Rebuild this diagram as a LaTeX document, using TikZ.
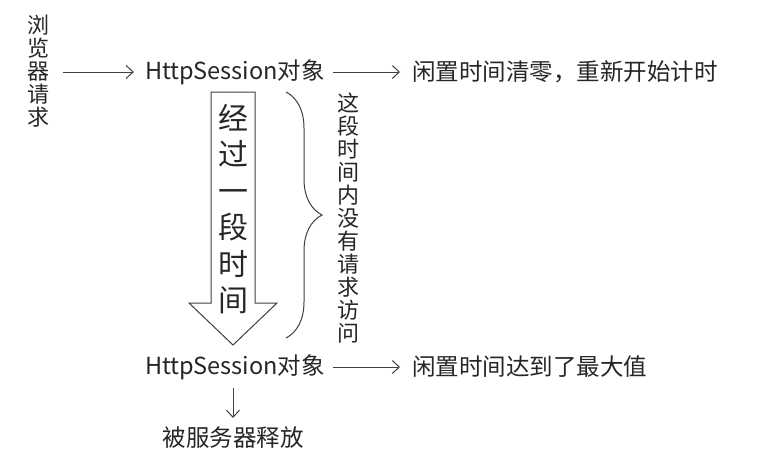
\documentclass[tikz,border=0pt]{standalone}
\usepackage{fontspec}
\setmainfont{Noto Sans CJK SC}
\usetikzlibrary{arrows.meta,decorations.pathreplacing}
\tikzset{
  lbl/.style={inner sep=0pt,text=black!85,font=\fontsize{23.5}{25}\selectfont},
  vlbl/.style={inner sep=0pt,text=black!85,align=center,font=\fontsize{22}{23}\selectfont},
  conn/.style={-{Straight Barb[length=7pt,width=13pt,line width=1pt]},line width=1pt,black!75},
}
\begin{document}
\begin{tikzpicture}[x=1pt,y=-1pt]
  \useasboundingbox[fill=white] (0,0) rectangle (758,469);
  % left column
  \node[vlbl] (browser) at (38.5,71) {浏\\览\\器\\请\\求};
  \node[lbl] (sess1) at (235,72) {HttpSession对象};
  \node[lbl,anchor=west] (reset) at (412,72) {闲置时间清零，重新开始计时};
  \node[lbl] (sess2) at (235,367) {HttpSession对象};
  \node[lbl,anchor=west] (maxed) at (412,367) {闲置时间达到了最大值};
  \node[lbl] (freed) at (233,438) {被服务器释放};
  % big hollow arrow
  \draw[line width=1pt,black!75] (211,92) -- (255,92) -- (255,303) -- (277,303)
    -- (233,345) -- (189,303) -- (211,303) -- cycle;
  \node[vlbl,font=\fontsize{30}{36.4}\selectfont] (wait) at (233,209) {经\\过\\一\\段\\时\\间};
  % brace and its text
  \draw[line width=1pt,black!75,decorate,
    decoration={brace,amplitude=36pt}] (286,92) -- (286,338);
  \node[vlbl] (idle) at (348,218) {这\\段\\时\\间\\内\\没\\有\\请\\求\\访\\问};
  % connectors
  \draw[conn,shorten <=13pt,shorten >=11pt] (browser.east |- sess1) -- (sess1.west);
  \draw[conn,shorten <=8pt,shorten >=12pt] (sess1.east) -- (reset.west);
  \draw[conn,shorten <=8pt,shorten >=12pt] (sess2.east) -- (maxed.west);
  \draw[conn,shorten <=8pt,shorten >=9pt] (freed.north |- sess2.south) -- (freed.north);
\end{tikzpicture}
\end{document}
